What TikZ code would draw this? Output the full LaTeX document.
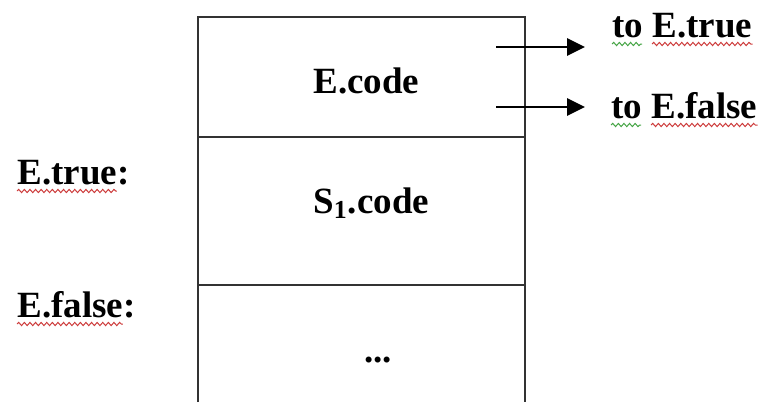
\documentclass[tikz,border=0pt]{standalone}
\usepackage{fontspec}
\setmainfont{Liberation Serif}
\usetikzlibrary{arrows.meta,decorations.pathmorphing,calc}

\definecolor{spellred}{RGB}{205,60,60}
\definecolor{spellgreen}{RGB}{70,165,70}

\tikzset{
  lbl/.style={font=\fontsize{18.5}{22}\selectfont\bfseries, inner sep=0pt, anchor=base west},
  rule/.style={line width=1.3pt, black!80},
  jump/.style={line width=1.4pt, -{Triangle[length=9pt,width=8.5pt]}},
  squig/.style={decorate, decoration={snake, amplitude=0.8pt, segment length=2.8pt}, line width=0.5pt},
}

\begin{document}
\begin{tikzpicture}[x=0.5pt,y=-0.5pt]
\useasboundingbox (0,0) rectangle (766,402);

% the code layout
\draw[rule] (198,402) -- (198,17) -- (525,17) -- (525,402);
\draw[rule] (198,137) -- (525,137);
\draw[rule] (198,285) -- (525,285);

\node[lbl] (ecode) at (313,93) {E.code};
\node[lbl] (scode) at (313,213) {S\textsubscript{1}.code};
\node[lbl, anchor=base] (rest) at (378,362) {...};

% labels on the left
\node[lbl] (etrue) at (17,184) {E.true:};
\node[lbl] (efalse) at (17,317) {E.false:};

% jumps out of E.code
\coordinate (jt) at (496,47);
\coordinate (jf) at (496,107);
\coordinate (ht) at (585,47);
\coordinate (hf) at (585,107);
\draw[jump] (jt) -- (ht);
\draw[jump] (jf) -- (hf);

\node[lbl] (totrue) at (612,37) {to E.true};
\node[lbl] (tofalse) at (611,118) {to E.false};

% spell-check underlines
\draw[squig, spellred] ($(etrue.base west)+(0,7)$) -- ($(etrue.base east)+(-13,7)$);
\draw[squig, spellred] ($(efalse.base west)+(0,7)$) -- ($(efalse.base east)+(-13,7)$);
\draw[squig, spellgreen] ($(totrue.base west)+(0,7)$) -- ($(totrue.base west)+(30,7)$);
\draw[squig, spellred] ($(totrue.base west)+(40,7)$) -- ($(totrue.base east)+(0,7)$);
\draw[squig, spellgreen] ($(tofalse.base west)+(0,7)$) -- ($(tofalse.base west)+(30,7)$);
\draw[squig, spellred] ($(tofalse.base west)+(40,7)$) -- ($(tofalse.base east)+(0,7)$);
\end{tikzpicture}
\end{document}
